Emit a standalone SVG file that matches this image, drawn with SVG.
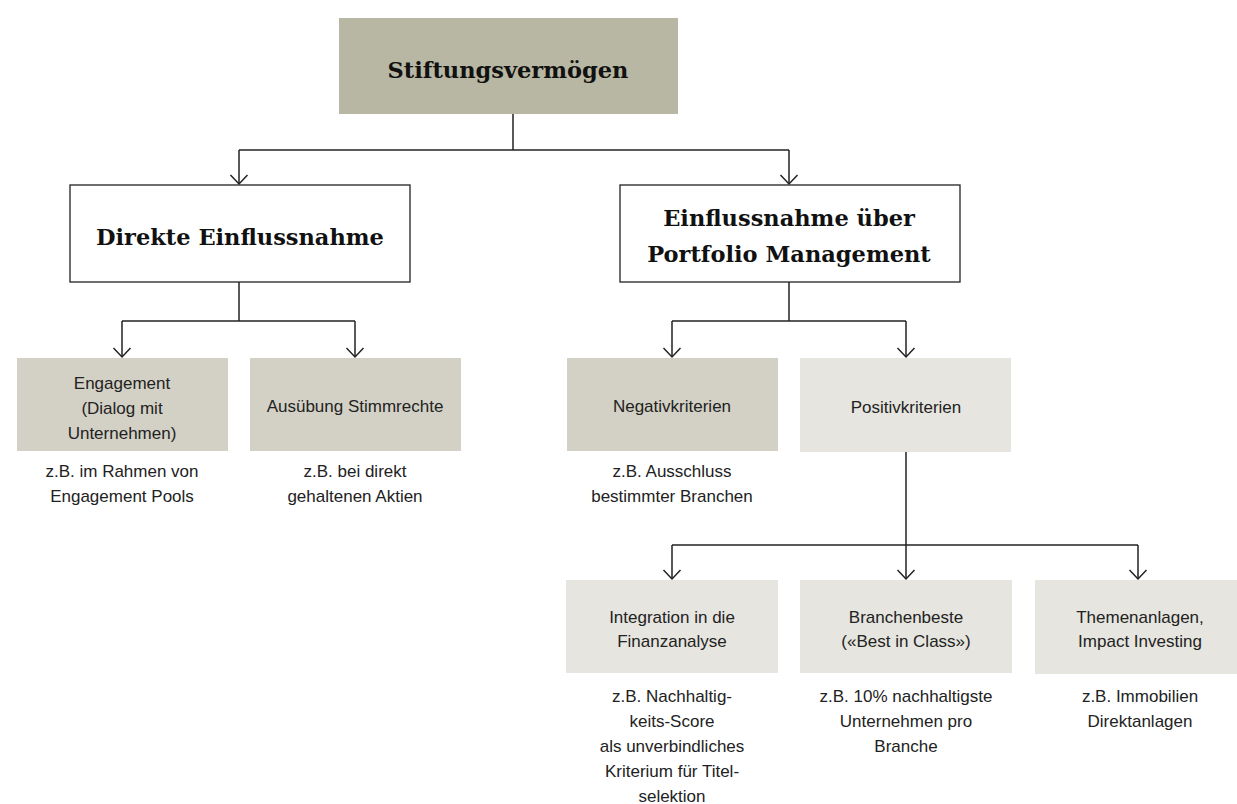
<svg xmlns="http://www.w3.org/2000/svg" width="1237" height="804" viewBox="0 0 1237 804">
<style>
.serif{font-family:"DejaVu Serif","Liberation Serif",serif;font-weight:bold;font-size:22.5px;fill:#111;text-anchor:middle}
.sans{font-family:"Liberation Sans",Arial,sans-serif;font-size:17px;fill:#222;text-anchor:middle}
.con{fill:none;stroke:#222;stroke-width:1.5}
.dark{fill:#b8b7a3}
.mid{fill:#d3d1c5}
.light{fill:#e6e5df}
.white{fill:#fff;stroke:#222;stroke-width:1.3}
</style>
<defs>
<marker id="arr" viewBox="0 0 20 20" refX="10" refY="10" markerWidth="20" markerHeight="20" markerUnits="userSpaceOnUse" orient="auto">
<polyline points="1,1.5 10,10 1,18.5" fill="none" stroke="#222" stroke-width="1.5"/>
</marker>
</defs>
<rect width="1237" height="804" fill="#fff"/>
<g id="connectors">
<path class="con" d="M513,114 V150"/>
<path class="con" d="M239,150 H789"/>
<path class="con" d="M239,150 V184" marker-end="url(#arr)"/>
<path class="con" d="M789,150 V184" marker-end="url(#arr)"/>
<path class="con" d="M239,282 V321"/>
<path class="con" d="M122,321 H355"/>
<path class="con" d="M122,321 V357" marker-end="url(#arr)"/>
<path class="con" d="M355,321 V357" marker-end="url(#arr)"/>
<path class="con" d="M789,282 V321"/>
<path class="con" d="M672,321 H906"/>
<path class="con" d="M672,321 V357" marker-end="url(#arr)"/>
<path class="con" d="M906,321 V357" marker-end="url(#arr)"/>
<path class="con" d="M906,452 V579" marker-end="url(#arr)"/>
<path class="con" d="M672,545 H1138"/>
<path class="con" d="M672,545 V579" marker-end="url(#arr)"/>
<path class="con" d="M1138,545 V579" marker-end="url(#arr)"/>
</g>
<g id="root">
<rect class="dark" x="339" y="18" width="339" height="96"/>
<text class="serif" x="508" y="78">Stiftungsvermögen</text>
</g>
<g id="direkt">
<rect class="white" x="70" y="185" width="340" height="97"/>
<text class="serif" x="240" y="245">Direkte Einflussnahme</text>
</g>
<g id="portfolio">
<rect class="white" x="620" y="185" width="340" height="97"/>
<text class="serif" x="789" y="226">Einflussnahme über</text>
<text class="serif" x="789" y="262">Portfolio Management</text>
</g>
<g id="engagement">
<rect class="mid" x="17" y="358" width="211" height="93"/>
<text class="sans" x="122" y="389">Engagement</text>
<text class="sans" x="122" y="414">(Dialog mit</text>
<text class="sans" x="122" y="439">Unternehmen)</text>
<text class="sans" x="122" y="477">z.B. im Rahmen von</text>
<text class="sans" x="122" y="502">Engagement Pools</text>
</g>
<g id="stimmrechte">
<rect class="mid" x="250" y="358" width="211" height="93"/>
<text class="sans" x="355" y="412">Ausübung Stimmrechte</text>
<text class="sans" x="355" y="477">z.B. bei direkt</text>
<text class="sans" x="355" y="502">gehaltenen Aktien</text>
</g>
<g id="negativ">
<rect class="mid" x="567" y="358" width="211" height="93"/>
<text class="sans" x="672" y="412">Negativkriterien</text>
<text class="sans" x="672" y="477">z.B. Ausschluss</text>
<text class="sans" x="672" y="502">bestimmter Branchen</text>
</g>
<g id="positiv">
<rect class="light" x="800" y="358" width="211" height="94"/>
<text class="sans" x="906" y="413">Positivkriterien</text>
</g>
<g id="integration">
<rect class="light" x="566" y="580" width="212" height="93"/>
<text class="sans" x="672" y="623">Integration in die</text>
<text class="sans" x="672" y="647">Finanzanalyse</text>
<text class="sans" x="672" y="702">z.B. Nachhaltig-</text>
<text class="sans" x="672" y="727">keits-Score</text>
<text class="sans" x="672" y="752">als unverbindliches</text>
<text class="sans" x="672" y="777">Kriterium für Titel-</text>
<text class="sans" x="672" y="802">selektion</text>
</g>
<g id="branchenbeste">
<rect class="light" x="800" y="580" width="212" height="93"/>
<text class="sans" x="906" y="623">Branchenbeste</text>
<text class="sans" x="906" y="647">(«Best in Class»)</text>
<text class="sans" x="906" y="702">z.B. 10% nachhaltigste</text>
<text class="sans" x="906" y="727">Unternehmen pro</text>
<text class="sans" x="906" y="752">Branche</text>
</g>
<g id="themen">
<rect class="light" x="1035" y="580" width="212" height="94"/>
<text class="sans" x="1140" y="623">Themenanlagen,</text>
<text class="sans" x="1140" y="647">Impact Investing</text>
<text class="sans" x="1140" y="702">z.B. Immobilien</text>
<text class="sans" x="1140" y="727">Direktanlagen</text>
</g>
</svg>
